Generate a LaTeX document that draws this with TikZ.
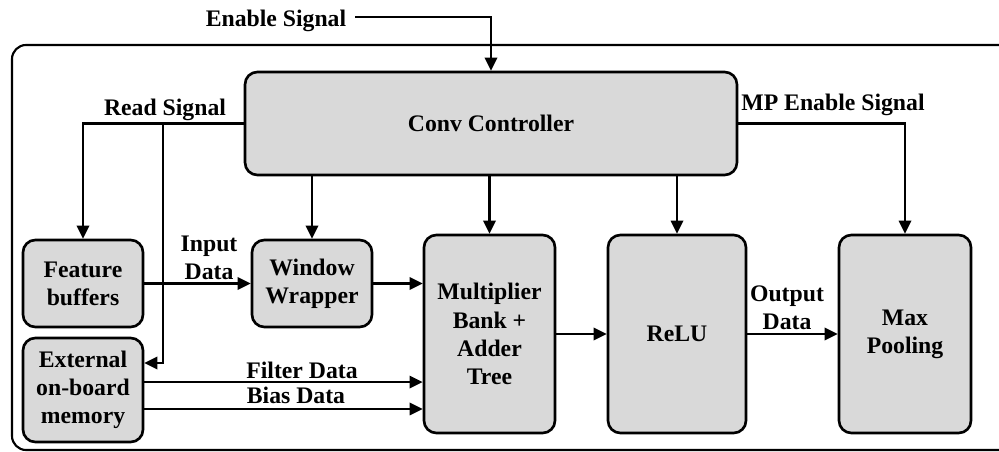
\documentclass[tikz,border=0pt]{standalone}
\usepackage{fontspec}
\setmainfont{Liberation Serif}
\usetikzlibrary{arrows.meta}
\definecolor{boxgray}{HTML}{D9D9D9}
\begin{document}
\begin{tikzpicture}[x=0.02cm, y=-0.02cm,
		every node/.style={font=\bfseries\fontsize{13.5}{16}\selectfont},
		blk/.style={draw, line width=1.5pt, fill=boxgray, rounded corners=7pt, align=center, inner sep=0pt},
		lbl/.style={align=center, inner sep=1pt},
		arr/.style={line width=1.4pt, -{Triangle[length=7.5pt, width=7pt]}}]
	\useasboundingbox (0,0) rectangle (999,452);
	\begin{scope}
		\clip (0,0) rectangle (999,452);
		\draw[line width=1.2pt, rounded corners=8pt] (12,45) rectangle (1020,450);
	\end{scope}
	\node[blk, minimum width=9.84cm, minimum height=2.06cm] (ctrl) at (491,123.5) {Conv Controller};
	\node[blk, minimum width=2.4cm, minimum height=1.74cm] (feat) at (83,283.5) {Feature\\buffers};
	\node[blk, minimum width=2.4cm, minimum height=2.08cm] (ext) at (83,390) {External\\on-board\\memory};
	\node[blk, minimum width=2.4cm, minimum height=1.74cm] (win) at (312,283.5) {Window\\Wrapper};
	\node[blk, minimum width=2.62cm, minimum height=3.96cm] (mult) at (489.5,334) {Multiplier\\Bank +\\Adder\\Tree};
	\node[blk, minimum width=2.76cm, minimum height=3.96cm] (relu) at (677,334) {ReLU};
	\node[blk, minimum width=2.64cm, minimum height=3.96cm] (maxp) at (905,334) {Max\\Pooling};
	\node[lbl] (entxt) at (276,21) {Enable Signal};
	\node[lbl] (rdtxt) at (165,110) {Read Signal};
	\node[lbl] (mptxt) at (833,105) {MP Enable Signal};
	\node[lbl] (intxt) at (209,258) {Input\\Data};
	\node[lbl] (fdtxt) at (302,370) {Filter Data};
	\node[lbl] (bdtxt) at (296,395) {Bias Data};
	\node[lbl] (odtxt) at (787,308) {Output\\Data};
	\coordinate (en) at (355,17);
	\coordinate (rs) at (163,123.5);
	\coordinate (rd) at (163,363);
	\coordinate (fd) at ([yshift=4.5pt]ext.east);
	\coordinate (bd) at ([yshift=-10.8pt]ext.east);
	\draw[arr] (en) -| (ctrl.north);
	\draw[arr] (ctrl.west) -| (feat.north);
	\draw[arr] (rs) -- (rd) -- (rd -| ext.east);
	\draw[arr] (ctrl.east) -| (maxp.north);
	\draw[arr] (win.north |- ctrl.south) -- (win.north);
	\draw[arr] (mult.north |- ctrl.south) -- (mult.north);
	\draw[arr] (relu.north |- ctrl.south) -- (relu.north);
	\draw[arr] (feat.east) -- (win.west);
	\draw[arr] (win.east) -- (win.east -| mult.west);
	\draw[arr] (fd) -- (fd -| mult.west);
	\draw[arr] (bd) -- (bd -| mult.west);
	\draw[arr] (mult.east) -- (relu.west);
	\draw[arr] (relu.east) -- (maxp.west);
\end{tikzpicture}
\end{document}
